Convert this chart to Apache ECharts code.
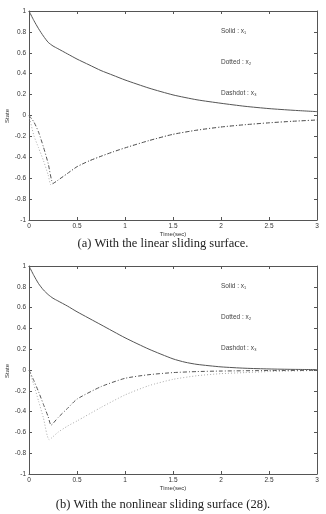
<!DOCTYPE html>
<html><head><meta charset="utf-8">
<script src="https://cdn.jsdelivr.net/npm/echarts@6/dist/echarts.min.js"></script>
<style>html,body{margin:0;padding:0;background:#fff}#c{width:326px;height:514px}</style>
</head><body><div id="c"></div>
<script>
// Plot (a): linear sliding surface
const tA1 = [0,0.05,0.1,0.15,0.2,0.25,0.3,0.4,0.5,0.625,0.75,0.875,1,1.25,1.5,1.75,2,2.25,2.5,2.75,3];
const x1A = [1,0.91,0.83,0.76,0.70,0.665,0.64,0.59,0.54,0.485,0.43,0.385,0.34,0.262,0.197,0.15,0.117,0.088,0.066,0.05,0.037];
const tA2 = [0,0.05,0.1,0.15,0.2,0.23,0.3,0.4,0.5,0.625,0.75,0.875,1,1.25,1.5,1.75,2,2.25,2.5,2.75,3];
const x2A = [0,-0.19,-0.31,-0.43,-0.57,-0.665,-0.62,-0.555,-0.49,-0.435,-0.39,-0.348,-0.31,-0.24,-0.18,-0.14,-0.11,-0.088,-0.07,-0.055,-0.043];
const tA3 = [0,0.05,0.1,0.15,0.2,0.25,0.3,0.4,0.5,0.625,0.75,0.875,1,1.25,1.5,1.75,2,2.25,2.5,2.75,3];
const x3A = [0,-0.06,-0.16,-0.3,-0.46,-0.65,-0.62,-0.555,-0.49,-0.435,-0.39,-0.348,-0.31,-0.24,-0.18,-0.14,-0.11,-0.088,-0.07,-0.055,-0.043];
// Plot (b): nonlinear sliding surface
const tB1 = [0,0.05,0.1,0.15,0.2,0.25,0.3,0.4,0.5,0.75,1,1.25,1.5,1.625,1.75,2,2.25,2.5,2.75,3];
const x1B = [1,0.91,0.83,0.77,0.725,0.69,0.665,0.615,0.56,0.435,0.31,0.2,0.107,0.075,0.054,0.03,0.017,0.01,0.006,0.004];
const tB2 = [0,0.05,0.1,0.15,0.21,0.3,0.4,0.5,0.75,1,1.25,1.5,1.75,2,2.25,2.5,3];
const x2B = [0,-0.14,-0.3,-0.46,-0.67,-0.6,-0.54,-0.49,-0.36,-0.24,-0.15,-0.09,-0.055,-0.035,-0.025,-0.015,-0.005];
const tB3 = [0,0.05,0.1,0.15,0.2,0.23,0.3,0.4,0.5,0.75,1,1.25,1.5,1.75,2,2.5,3];
const x3B = [0,-0.1,-0.21,-0.33,-0.45,-0.53,-0.46,-0.37,-0.28,-0.16,-0.08,-0.045,-0.025,-0.015,-0.01,-0.005,-0.003];

const xTicks = [0,0.5,1,1.5,2,2.5,3];
const yTicks = [-1,-0.8,-0.6,-0.4,-0.2,0,0.2,0.4,0.6,0.8,1];
const legendLabels = ['Solid : x\u2081','Dotted : x\u2082','Dashdot : x\u2083'];
const captions = ['(a) With the linear sliding surface.','(b) With the nonlinear sliding surface (28).'];
const yName = 'State';
const xName = 'Time(sec)';

const pairs = (t, v) => t.map((x, i) => [x, v[i]]);
const AX = '#555';
const LBL = {fontSize: 6.5, color: '#333', fontFamily: 'Liberation Sans'};
const grids = [
  {left: 29, width: 288, top: 11, height: 209, containLabel: false, outerBoundsMode: 'none'},
  {left: 29, width: 288, top: 266, height: 208, containLabel: false, outerBoundsMode: 'none'}
];
const xAxes = [], yAxes = [];
grids.forEach((g, gi) => {
  [['bottom', true], ['top', false]].forEach(([pos, lab]) => xAxes.push({
    type: 'value', gridIndex: gi, position: pos, min: xTicks[0], max: xTicks[xTicks.length-1], interval: 0.5,
    axisLine: {show: true, onZero: false, lineStyle: {color: AX, width: 1}},
    axisTick: {show: true, inside: true, length: 3, lineStyle: {color: AX}},
    axisLabel: Object.assign({show: lab, margin: 3}, LBL),
    splitLine: {show: false},
    name: lab ? xName : '', nameLocation: 'middle', nameGap: 7,
    nameTextStyle: {fontSize: 6, color: '#333', fontFamily: 'Liberation Sans'}
  }));
  [['left', true], ['right', false]].forEach(([pos, lab]) => yAxes.push({
    type: 'value', gridIndex: gi, position: pos, min: yTicks[0], max: yTicks[yTicks.length-1], interval: 0.2,
    axisLine: {show: true, onZero: false, lineStyle: {color: AX, width: 1}},
    axisTick: {show: true, inside: true, length: 3, lineStyle: {color: AX}},
    axisLabel: Object.assign({show: lab, margin: 3, formatter: v => String(Math.round(v*10)/10)}, LBL),
    splitLine: {show: false}
  }));
});

function line(name, data, gi, style) {
  return {name, type: 'line', xAxisIndex: gi*2, yAxisIndex: gi*2, data, showSymbol: false, symbol: 'none',
    smooth: 0.2, lineStyle: style, silent: true, animation: false};
}
const sSolid = {color: '#555', width: 1, type: 'solid'};
const sDot = {color: '#aaa', width: 1, type: [1, 2]};
const sDash = {color: '#555', width: 1, type: [4, 2, 1, 2]};

const series = [
  line('x1a', pairs(tA1, x1A), 0, sSolid),
  line('x2a', pairs(tA2, x2A), 0, sDot),
  line('x3a', pairs(tA3, x3A), 0, sDash),
  line('x1b', pairs(tB1, x1B), 1, sSolid),
  line('x2b', pairs(tB2, x2B), 1, sDot),
  line('x3b', pairs(tB3, x3B), 1, sDash)
];

const graphic = [];
const legY = [[32, 63, 94], [287, 318, 349]];
legY.forEach(ys => ys.forEach((y, i) => graphic.push({
  type: 'text', left: 221, top: y - 4,
  style: {text: legendLabels[i], fontSize: 6.5, fill: '#444', fontFamily: 'Liberation Sans'}
})));
[116, 371].forEach(y => graphic.push({
  type: 'text', x: 7, y: y, rotation: Math.PI / 2,
  style: {text: yName, fontSize: 6, fill: '#333', fontFamily: 'Liberation Sans', align: 'center', verticalAlign: 'middle'}
}));
[244, 505].forEach((y, i) => graphic.push({
  type: 'text', left: 'center', top: y - 7,
  style: {text: captions[i], fontSize: 12.5, fill: '#222', fontFamily: 'Liberation Serif'}
}));

const chart = echarts.init(document.getElementById('c'), null, {renderer: 'canvas'});
chart.setOption({animation: false, grid: grids, xAxis: xAxes, yAxis: yAxes, series, graphic});
</script></body></html>
